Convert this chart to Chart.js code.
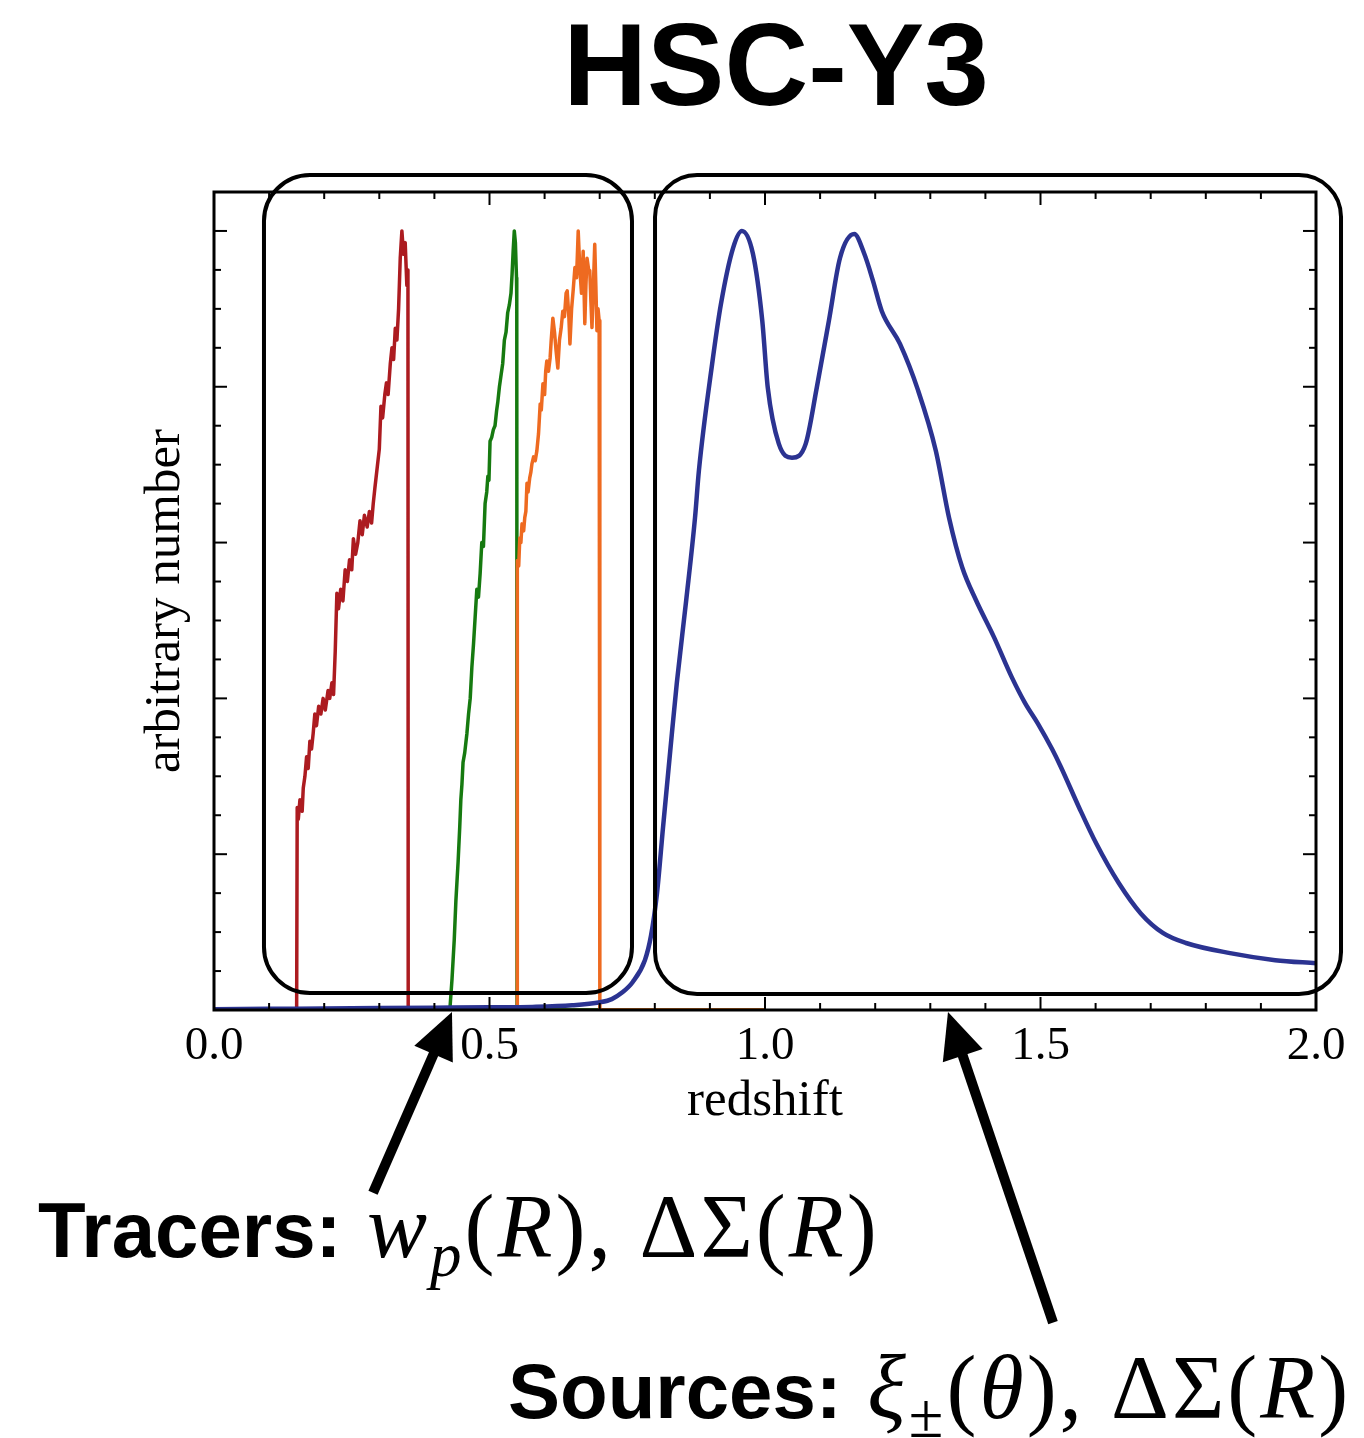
<!DOCTYPE html>
<html><head><meta charset="utf-8">
<script src="https://cdn.jsdelivr.net/npm/chart.js@4.4.1/dist/chart.umd.min.js"></script>
<style>
html,body{margin:0;padding:0;background:#fff;}
#wrap{position:relative;width:1364px;height:1438px;overflow:hidden;background:#fff;}
#c{position:absolute;left:0;top:0;}
.lbl{position:absolute;white-space:nowrap;line-height:1;color:#000;left:0;top:0;}
.sans{font-family:"Liberation Sans",Arial,Helvetica,sans-serif;font-weight:bold;}
.math{font-family:"Liberation Serif","Times New Roman",serif;letter-spacing:3px;}
.math i{font-style:italic;}
.math sub{font-size:0.7em;vertical-align:-0.3em;line-height:1;}
.bl{display:inline-block;width:0;height:0;}
</style></head><body>
<div id="wrap">
<canvas id="c" width="1364" height="1438"></canvas>
<div id="title" class="lbl sans" style="font-size:116px;">HSC-Y3<span class="bl"></span></div>
<div id="tracers" class="lbl"><span class="sans" style="font-size:78px;">Tracers:</span><span class="math" style="font-size:90px;"> <i>w</i><sub><i>p</i></sub>(<i>R</i>), ΔΣ(<i>R</i>)</span><span class="bl"></span></div>
<div id="sources" class="lbl"><span class="sans" style="font-size:78px;">Sources:</span><span class="math" style="font-size:90px;"> <i>ξ</i><sub>±</sub>(<i>θ</i>),<span style="margin-left:26px"></span>ΔΣ(<i>R</i>)</span><span class="bl"></span></div>
</div>
<script>
// ---------- data ----------
const xTickLabels = ['0.0', '0.5', '1.0', '1.5', '2.0'];

const redZ = [0.000, 0.150, 0.151, 0.153, 0.156, 0.160, 0.162, 0.165, 0.168, 0.171, 0.174, 0.177, 0.180, 0.183, 0.186, 0.190, 0.194, 0.198, 0.202, 0.207, 0.210, 0.214, 0.217, 0.220, 0.223, 0.226, 0.230, 0.234, 0.238, 0.242, 0.246, 0.250, 0.253, 0.257, 0.261, 0.265, 0.269, 0.273, 0.278, 0.282, 0.286, 0.289, 0.292, 0.296, 0.300, 0.303, 0.306, 0.310, 0.313, 0.316, 0.320, 0.323, 0.326, 0.329, 0.332, 0.335, 0.338, 0.341, 0.344, 0.347, 0.350, 0.352, 0.3525, 1.000];
const redV = [0, 0, 0.26, 0.245, 0.27, 0.255, 0.285, 0.30, 0.325, 0.31, 0.345, 0.335, 0.355, 0.38, 0.365, 0.39, 0.38, 0.40, 0.385, 0.41, 0.40, 0.42, 0.405, 0.46, 0.535, 0.515, 0.54, 0.525, 0.565, 0.55, 0.578, 0.565, 0.605, 0.585, 0.60, 0.628, 0.61, 0.635, 0.62, 0.64, 0.625, 0.65, 0.67, 0.695, 0.72, 0.775, 0.76, 0.79, 0.805, 0.79, 0.83, 0.85, 0.835, 0.875, 0.86, 0.90, 0.965, 1.0, 0.97, 0.985, 0.93, 0.95, 0, 0];

const greenZ = [0.000, 0.428, 0.432, 0.434, 0.436, 0.439, 0.443, 0.446, 0.448, 0.450, 0.452, 0.455, 0.459, 0.462, 0.465, 0.468, 0.471, 0.474, 0.477, 0.480, 0.483, 0.486, 0.489, 0.492, 0.495, 0.497, 0.499, 0.501, 0.504, 0.507, 0.510, 0.513, 0.515, 0.518, 0.521, 0.524, 0.527, 0.530, 0.533, 0.536, 0.539, 0.541, 0.543, 0.545, 0.547, 0.549, 0.5495, 0.5500, 1.000];
const greenV = [0, 0, 0.04, 0.065, 0.09, 0.14, 0.19, 0.235, 0.27, 0.29, 0.318, 0.33, 0.355, 0.38, 0.40, 0.44, 0.47, 0.505, 0.54, 0.53, 0.56, 0.60, 0.595, 0.65, 0.665, 0.685, 0.68, 0.73, 0.735, 0.745, 0.75, 0.77, 0.78, 0.80, 0.815, 0.83, 0.86, 0.87, 0.895, 0.905, 0.92, 0.945, 0.975, 1.0, 0.985, 0.94, 0.91, 0, 0];

const orangeZ = [0.000, 0.550, 0.5505, 0.553, 0.555, 0.557, 0.559, 0.562, 0.564, 0.566, 0.568, 0.570, 0.573, 0.575, 0.577, 0.580, 0.583, 0.586, 0.589, 0.592, 0.594, 0.597, 0.600, 0.602, 0.604, 0.607, 0.610, 0.612, 0.615, 0.618, 0.621, 0.624, 0.627, 0.630, 0.633, 0.636, 0.639, 0.641, 0.644, 0.646, 0.649, 0.652, 0.655, 0.658, 0.661, 0.664, 0.667, 0.670, 0.673, 0.675, 0.677, 0.680, 0.682, 0.684, 0.686, 0.689, 0.691, 0.693, 0.695, 0.697, 0.699, 0.700, 0.7005, 1.000];
const orangeV = [0, 0, 0.577, 0.57, 0.606, 0.60, 0.624, 0.615, 0.632, 0.64, 0.676, 0.665, 0.683, 0.69, 0.701, 0.71, 0.705, 0.718, 0.74, 0.778, 0.77, 0.804, 0.79, 0.82, 0.833, 0.82, 0.837, 0.86, 0.888, 0.87, 0.845, 0.824, 0.86, 0.875, 0.897, 0.89, 0.92, 0.923, 0.89, 0.855, 0.90, 0.925, 0.953, 0.94, 1.0, 0.95, 0.92, 0.974, 0.881, 0.93, 0.965, 0.95, 0.949, 0.91, 0.876, 0.94, 0.983, 0.93, 0.872, 0.90, 0.885, 0.88, 0, 0];

const blueZ = [0.000, 0.100, 0.200, 0.300, 0.400, 0.500, 0.578, 0.650, 0.701, 0.722, 0.740, 0.760, 0.782, 0.793, 0.804, 0.815, 0.831, 0.840, 0.857, 0.873, 0.880, 0.904, 0.920, 0.942, 0.958, 0.978, 0.995, 1.005, 1.025, 1.049, 1.074, 1.094, 1.116, 1.136, 1.162, 1.180, 1.196, 1.212, 1.245, 1.278, 1.310, 1.334, 1.358, 1.383, 1.416, 1.448, 1.472, 1.495, 1.521, 1.537, 1.570, 1.601, 1.642, 1.682, 1.722, 1.764, 1.844, 1.926, 2.000];
const blueV = [0.001, 0.0015, 0.002, 0.0025, 0.003, 0.0035, 0.004, 0.006, 0.010, 0.014, 0.022, 0.036, 0.064, 0.095, 0.150, 0.235, 0.355, 0.420, 0.526, 0.632, 0.692, 0.829, 0.906, 0.978, 1.000, 0.971, 0.885, 0.799, 0.727, 0.709, 0.727, 0.799, 0.885, 0.965, 0.996, 0.971, 0.936, 0.897, 0.855, 0.795, 0.718, 0.632, 0.568, 0.526, 0.478, 0.427, 0.394, 0.368, 0.335, 0.312, 0.260, 0.214, 0.163, 0.124, 0.099, 0.086, 0.073, 0.064, 0.060];

// annotation shapes in data units (redshift, arbitrary number)
const boxLeft = [0.0907, 0.7586, 1.0718, 0.0218];
const boxRight = [0.8004, 2.0454, 1.0718, 0.0205];
const arrowTracers = [0.2886, -0.2346, 0.4319, -0.0026];
const arrowSources = [1.5227, -0.4013, 1.3321, -0.0026];

const pts = (xs, ys) => xs.map((x, i) => ({x: x, y: ys[i]}));

const decor = {
  id: 'decor',
  afterDraw(chart) {
    const {ctx, chartArea: a, scales: {x, y}} = chart;
    const X = v => x.getPixelForValue(v), Y = v => y.getPixelForValue(v);
    ctx.save();
    ctx.strokeStyle = '#000';
    ctx.lineCap = 'butt';
    ctx.lineWidth = 2;
    const seg = (x1, y1, x2, y2) => { ctx.beginPath(); ctx.moveTo(x1, y1); ctx.lineTo(x2, y2); ctx.stroke(); };
    for (let i = 0; i <= 20; i++) {
      const px = X(i / 10), L = (i % 5 === 0) ? 13 : 7;
      seg(px, a.bottom, px, a.bottom - L);
      seg(px, a.top, px, a.top + L);
    }
    for (let i = 0; i <= 20; i++) {
      const py = Y(i * 0.05), L = (i % 4 === 0) ? 13 : 7;
      seg(a.left, py, a.left + L, py);
      seg(a.right, py, a.right - L, py);
    }
    ctx.lineWidth = 3;
    ctx.strokeRect(a.left, a.top, a.right - a.left, a.bottom - a.top);
    // rounded boxes
    ctx.lineWidth = 4;
    const rbox = (b, r) => {
      const l = X(b[0]), rr = X(b[1]), t = Y(b[2]), bt = Y(b[3]);
      ctx.beginPath(); ctx.roundRect(l, t, rr - l, bt - t, r); ctx.stroke();
    };
    rbox(boxLeft, 46);
    rbox(boxRight, 42);
    // arrows
    const arrow = (ar) => {
      const x1 = X(ar[0]), y1 = Y(ar[1]), x2 = X(ar[2]), y2 = Y(ar[3]);
      const dx = x2 - x1, dy = y2 - y1, len = Math.hypot(dx, dy);
      const ux = dx / len, uy = dy / len, nx = -uy, ny = ux;
      const hl = 46, hw = 21;
      const bx = x2 - ux * hl, by = y2 - uy * hl;
      ctx.lineWidth = 10;
      seg(x1, y1, bx + ux * 4, by + uy * 4);
      ctx.fillStyle = '#000';
      ctx.beginPath();
      ctx.moveTo(x2, y2);
      ctx.lineTo(bx + nx * hw, by + ny * hw);
      ctx.lineTo(bx - nx * hw, by - ny * hw);
      ctx.closePath(); ctx.fill();
    };
    arrow(arrowTracers);
    arrow(arrowSources);
    ctx.restore();
  }
};

new Chart(document.getElementById('c'), {
  type: 'line',
  data: {
    datasets: [
      {label: 'sources', data: pts(blueZ, blueV), borderColor: '#2B3391', borderWidth: 4.5, pointRadius: 0, cubicInterpolationMode: 'monotone', order: 0},
      {label: 'tracer high-z', data: pts(orangeZ, orangeV), borderColor: '#EE6A20', borderWidth: 3.5, pointRadius: 0, tension: 0, order: 1, borderJoinStyle: 'round'},
      {label: 'tracer mid-z', data: pts(greenZ, greenV), borderColor: '#167A10', borderWidth: 3.5, pointRadius: 0, tension: 0, order: 2, borderJoinStyle: 'round'},
      {label: 'tracer low-z', data: pts(redZ, redV), borderColor: '#AC1B20', borderWidth: 3.5, pointRadius: 0, tension: 0, order: 3, borderJoinStyle: 'round'}
    ]
  },
  options: {
    responsive: false, animation: false, devicePixelRatio: 1,
    layout: {padding: {top: 192, right: 48, left: 0, bottom: 0}},
    plugins: {legend: {display: false}, tooltip: {enabled: false}, title: {display: false}},
    scales: {
      x: {
        type: 'linear', min: 0, max: 2,
        afterFit(s) { s.height = 428; },
        grid: {display: false, drawTicks: false}, border: {display: false},
        ticks: {stepSize: 0.5, autoSkip: false, maxRotation: 0, padding: 8, color: '#000',
          font: {family: '"Liberation Serif", "Times New Roman", serif', size: 47},
          callback: v => xTickLabels[Math.round(v / 0.5)]},
        title: {display: true, text: 'redshift', color: '#000',
          font: {family: '"Liberation Serif", "Times New Roman", serif', size: 51, lineHeight: 1},
          padding: {top: 0, bottom: 311}}
      },
      y: {
        type: 'linear', min: 0, max: 1.05,
        afterFit(s) { s.width = 214; },
        grid: {display: false, drawTicks: false}, border: {display: false},
        ticks: {display: false},
        title: {display: true, text: 'arbitrary number', color: '#000',
          font: {family: '"Liberation Serif", "Times New Roman", serif', size: 51, lineHeight: 1},
          padding: {top: 140, bottom: 0}}
      }
    }
  },
  plugins: [decor]
});

// ---------- text placement by baseline ----------
function place(id, left, baseline, centerX) {
  const el = document.getElementById(id);
  const mk = el.querySelector('.bl');
  const er = el.getBoundingClientRect();
  const mr = mk.getBoundingClientRect();
  const off = mr.bottom - er.top;
  el.style.top = (baseline - off) + 'px';
  if (centerX !== undefined) el.style.left = (centerX - er.width / 2) + 'px';
  else el.style.left = left + 'px';
}
place('title', 0, 105, 776);
place('tracers', 38, 1257);
place('sources', 508, 1418);
</script>
</body></html>
